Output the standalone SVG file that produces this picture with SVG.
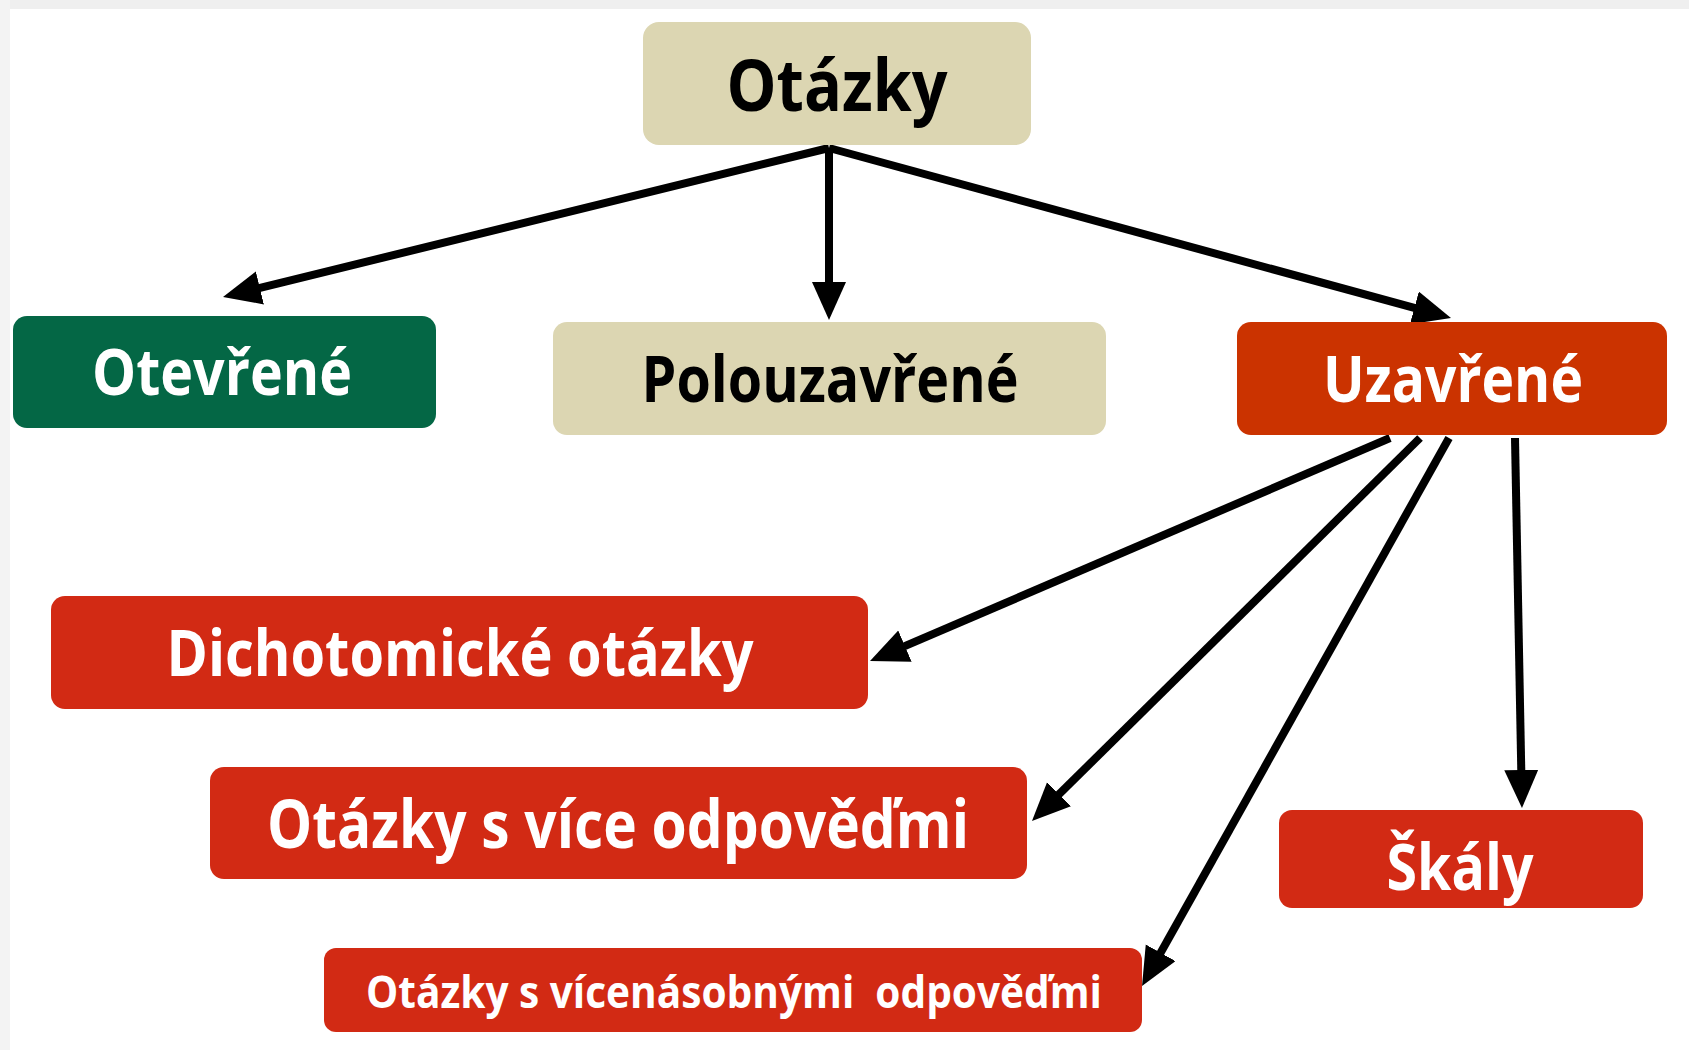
<svg xmlns="http://www.w3.org/2000/svg" width="1689" height="1050" viewBox="0 0 1689 1050">
<style>
  text { font-family: "Open Sans", "Noto Sans", "DejaVu Sans", sans-serif; font-weight: 700; }
  .beige { fill: #DCD6B2; }
  .green { fill: #046745; }
  .orange { fill: #CB3300; }
  .red { fill: #D22A14; }
  .dark { fill: #000000; }
  .light { fill: #FFFFFF; }
  .conn { stroke: #000000; stroke-width: 8; fill: none; marker-end: url(#arrow); }
</style>
<defs>
  <marker id="arrow" markerUnits="userSpaceOnUse" markerWidth="40" markerHeight="36" refX="18" refY="17" orient="auto" viewBox="0 0 40 36">
    <path d="M0,0 L38,17 L0,34 Z" fill="#000000"/>
  </marker>
</defs>
<rect x="0" y="0" width="1689" height="1050" fill="#FFFFFF"/>
<rect x="0" y="0" width="1689" height="9" fill="#EFEFEF"/>
<rect x="0" y="0" width="10" height="1050" fill="#F3F3F3"/>

<g id="connectors">
  <line class="conn" x1="829" y1="148" x2="242.4" y2="292.2"/>
  <line class="conn" x1="829" y1="148" x2="829" y2="300"/>
  <line class="conn" x1="829" y1="148" x2="1431.7" y2="312.7"/>
  <line class="conn" x1="1390" y1="438" x2="888.4" y2="653.1"/>
  <line class="conn" x1="1420" y1="438" x2="1046.2" y2="806.9"/>
  <line class="conn" x1="1449" y1="438" x2="1151.8" y2="968.5"/>
  <line class="conn" x1="1515" y1="438" x2="1521.6" y2="788"/>
</g>

<g id="node-otazky">
  <rect class="beige" x="643" y="22" width="388" height="123" rx="16"/>
  <text class="dark" x="837" y="111" font-size="72" text-anchor="middle" textLength="221" lengthAdjust="spacingAndGlyphs">Otázky</text>
</g>
<g id="node-otevrene">
  <rect class="green" x="13" y="316" width="423" height="112" rx="14"/>
  <text class="light" x="222" y="395" font-size="64" text-anchor="middle" textLength="260" lengthAdjust="spacingAndGlyphs">Otevřené</text>
</g>
<g id="node-polouzavrene">
  <rect class="beige" x="553" y="322" width="553" height="113" rx="14"/>
  <text class="dark" x="830" y="402" font-size="64" text-anchor="middle" textLength="377" lengthAdjust="spacingAndGlyphs">Polouzavřené</text>
</g>
<g id="node-uzavrene">
  <rect class="orange" x="1237" y="322" width="430" height="113" rx="14"/>
  <text class="light" x="1453" y="402" font-size="64" text-anchor="middle" textLength="260" lengthAdjust="spacingAndGlyphs">Uzavřené</text>
</g>
<g id="node-dichotomicke">
  <rect class="red" x="51" y="596" width="817" height="113" rx="14"/>
  <text class="light" x="460" y="676" font-size="64" text-anchor="middle" textLength="587" lengthAdjust="spacingAndGlyphs">Dichotomické otázky</text>
</g>
<g id="node-vice">
  <rect class="red" x="210" y="767" width="817" height="112" rx="14"/>
  <text class="light" x="618" y="848" font-size="66" text-anchor="middle" textLength="702" lengthAdjust="spacingAndGlyphs">Otázky s více odpověďmi</text>
</g>
<g id="node-skaly">
  <rect class="red" x="1279" y="810" width="364" height="98" rx="13"/>
  <text class="light" x="1460" y="890" font-size="64" text-anchor="middle" textLength="147" lengthAdjust="spacingAndGlyphs">Škály</text>
</g>
<g id="node-vicenasobne">
  <rect class="red" x="324" y="948" width="818" height="84" rx="12"/>
  <text class="light" x="734" y="1008" font-size="45" text-anchor="middle" textLength="736" lengthAdjust="spacingAndGlyphs" xml:space="preserve">Otázky s vícenásobnými  odpověďmi</text>
</g>
</svg>
